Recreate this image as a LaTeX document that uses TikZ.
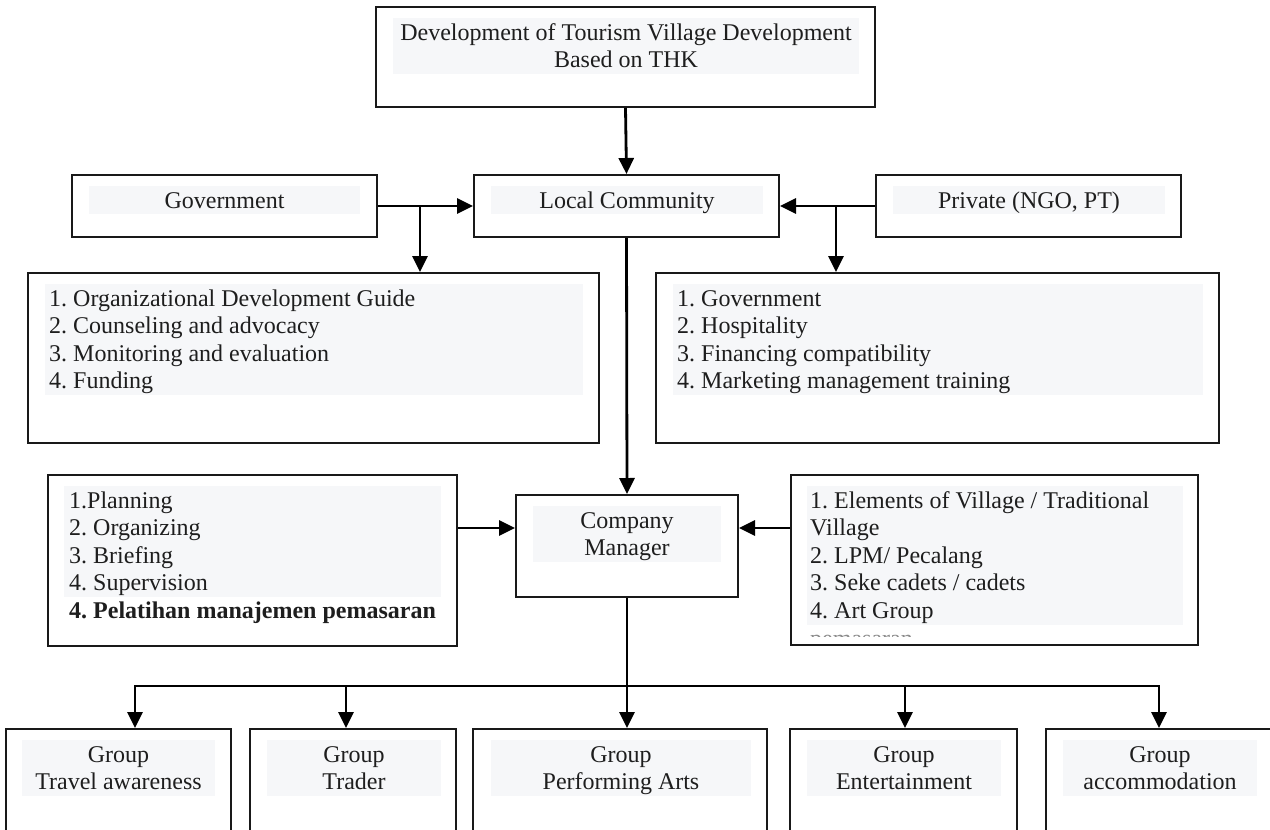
\documentclass[tikz,border=0pt]{standalone}
\usepackage{fontspec}
\setmainfont{Liberation Serif}
\usetikzlibrary{arrows.meta,fit}
\definecolor{hl}{RGB}{246,247,249}
\definecolor{txt}{RGB}{30,30,30}
\tikzset{
  box/.style={draw=black!90, line width=2pt, inner sep=0pt},
  arr/.style={line width=2.8pt, -{Triangle[length=16pt,width=15pt]}},
  ln/.style={line width=2.8pt},
  tx/.style={inner sep=0pt, text=txt, font=\fontsize{24}{27.6}\selectfont},
}
\frenchspacing
\begin{document}
\frenchspacing
\begin{tikzpicture}[x=1pt,y=-1pt]
\useasboundingbox (0,0) rectangle (1270,830);
\clip (0,0) rectangle (1270,830);
% text highlights
\fill[hl] (393,18) rectangle (859,73.6);
\fill[hl] (89,186) rectangle (360,214);
\fill[hl] (491,186) rectangle (763,214);
\fill[hl] (893,186) rectangle (1165,214);
\fill[hl] (45,284) rectangle (583,395);
\fill[hl] (673,284) rectangle (1203,395);
\fill[hl] (64,486) rectangle (441,597);
\fill[hl] (533,506) rectangle (721,562);
\fill[hl] (807,486) rectangle (1183,625);
\fill[hl] (22,740) rectangle (215,796);
\fill[hl] (267,740) rectangle (441,796);
\fill[hl] (491,740) rectangle (751,796);
\fill[hl] (807,740) rectangle (1001,796);
\fill[hl] (1063,740) rectangle (1257,796);
% boxes
\node[box, fit={(376,7)(875,107)}] (top) {};
\node[box, fit={(72,175)(377,237)}] (gov) {};
\node[box, fit={(474,175)(779,237)}] (lc) {};
\node[box, fit={(876,175)(1181,237)}] (priv) {};
\node[box, fit={(28,273)(599,443)}] (llist) {};
\node[box, fit={(656,273)(1219,443)}] (rlist) {};
\node[box, fit={(48,475)(457,646)}] (lowl) {};
\node[box, fit={(516,495)(738,597)}] (cm) {};
\node[box, fit={(791,475)(1198,645)}] (lowr) {};
\node[box, fit={(6,729)(231,860)}] (b1) {};
\node[box, fit={(250,729)(456,860)}] (b2) {};
\node[box, fit={(473,729)(767,860)}] (b3) {};
\node[box, fit={(790,729)(1017,860)}] (b4) {};
\node[box, fit={(1046,729)(1290,860)}] (b5) {};
% texts (base anchor = baseline of the last line)
\node[tx, anchor=base, align=center] (ttop) at (626,67.6) {Development of Tourism Village Development\\Based on THK};
\node[tx, anchor=base] (tgov) at (224.5,208) {Government};
\node[tx, anchor=base] (tlc) at (627,208) {Local Community};
\node[tx, anchor=base] (tpriv) at (1029,208) {Private (NGO, PT)};
\node[tx, anchor=base west, align=left] (tll) at (49,388.8) {1. Organizational Development Guide\\2. Counseling and advocacy\\3. Monitoring and evaluation\\4. Funding};
\node[tx, anchor=base west, align=left] (trl) at (677,388.8) {1. Government\\2. Hospitality\\3. Financing compatibility\\4. Marketing management training};
\node[tx, anchor=base west, align=left] (tlowl) at (69,618.4) {1.Planning\\2. Organizing\\3. Briefing\\4. Supervision\\\textbf{4. Pelatihan manajemen pemasaran}};
\node[tx, anchor=base west, align=left] (tlowr) at (810,618.4) {1. Elements of Village / Traditional\\Village\\2. LPM/ Pecalang\\3. Seke cadets / cadets\\4. Art Group};
\begin{scope}
\clip (800,628) rectangle (1190,636.5);
\node[tx, anchor=base west, text=black!45] (tcut) at (810,646) {pemasaran};
\end{scope}
\node[tx, anchor=base, align=center] (tcm) at (627,555.6) {Company\\Manager};
\node[tx, anchor=base, align=center] (tb1) at (118.5,789.6) {Group\\Travel awareness};
\node[tx, anchor=base, align=center] (tb2) at (354,789.6) {Group\\Trader};
\node[tx, anchor=base, align=center] (tb3) at (621,789.6) {Group\\Performing Arts};
\node[tx, anchor=base, align=center] (tb4) at (904,789.6) {Group\\Entertainment};
\node[tx, anchor=base, align=center] (tb5) at (1160,789.6) {Group\\accommodation};
% connectors
\draw[arr] (top.south) -- (lc.north);
\draw[arr] (gov.east) -- (lc.west);
\draw[arr] (priv.west) -- (lc.east);
\coordinate (gb) at (420,206);
\coordinate (pb) at (836,206);
\draw[arr] (gb) -- (gb |- llist.north);
\draw[arr] (pb) -- (pb |- rlist.north);
\draw[arr] (lc.south) -- (cm.north);
\coordinate (ly) at (0,528);
\draw[arr] (lowl.east |- ly) -- (cm.west |- ly);
\draw[arr] (lowr.west |- ly) -- (cm.east |- ly);
\coordinate (bus) at (627,686);
\coordinate (busl) at (135,686);
\coordinate (bus2) at (346,686);
\coordinate (bus4) at (905,686);
\coordinate (busr) at (1159,686);
\draw[ln] (cm.south) -- (bus);
\draw[ln, line cap=rect] (busl) -- (busr);
\draw[arr] (busl) -- (busl |- b1.north);
\draw[arr] (bus2) -- (bus2 |- b2.north);
\draw[arr] (bus) -- (bus |- b3.north);
\draw[arr] (bus4) -- (bus4 |- b4.north);
\draw[arr] (busr) -- (busr |- b5.north);
\end{tikzpicture}
\end{document}
